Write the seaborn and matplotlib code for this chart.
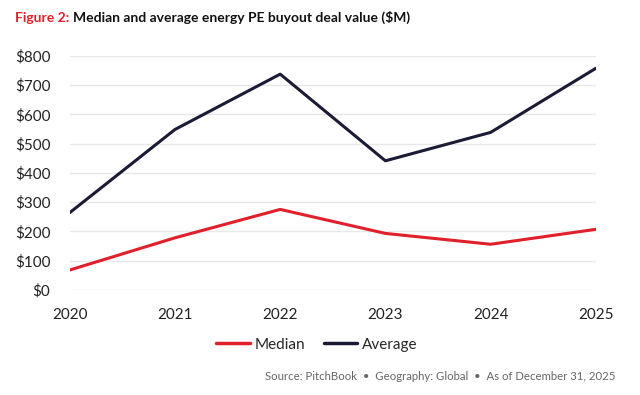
import matplotlib
matplotlib.use("Agg")
import matplotlib.pyplot as plt
import seaborn as sns
import pandas as pd
from matplotlib.lines import Line2D

# data ($M)
years = [2020, 2021, 2022, 2023, 2024, 2025]
median = [68, 178, 275, 193, 156, 207]
average = [264, 548, 737, 441, 538, 757]
y_ticks = [0, 100, 200, 300, 400, 500, 600, 700, 800]

RED = "#E0202B"
NAVY = "#1B1B36"

sns.set_theme(style="white")
plt.rcParams['font.family'] = ['Lato', 'DejaVu Sans']

df = pd.DataFrame({"Year": years * 2,
                   "Value": median + average,
                   "Series": ["Median"] * len(years) + ["Average"] * len(years)})

fig = plt.figure(figsize=(6.4, 3.95), dpi=100)
ax = fig.add_axes([0.109, 0.266, 0.822, 0.593])

sns.lineplot(data=df, x="Year", y="Value", hue="Series",
             palette={"Median": RED, "Average": NAVY},
             linewidth=2.2, ax=ax, legend=False)

ax.set_xlim(years[0], years[-1])
ax.set_ylim(0, 800)
ax.set_xticks(years)
ax.set_yticks(y_ticks)
ax.set_yticklabels([f"${v}" for v in y_ticks])
ax.set_xlabel("")
ax.set_ylabel("")
for s in ax.spines.values():
    s.set_visible(False)
ax.yaxis.grid(True, color="#e8e8e8", linewidth=1)
ax.set_axisbelow(True)
ax.tick_params(axis="both", length=0, labelsize=11, colors="#222222")
ax.tick_params(axis="y", pad=14)
ax.tick_params(axis="x", pad=13)

# legend
handles = [Line2D([], [], color=RED, linewidth=2.5),
           Line2D([], [], color=NAVY, linewidth=2.5)]
fig.legend(handles, ["Median", "Average"], loc="center", bbox_to_anchor=(0.495, 0.127),
           ncol=2, frameon=False, fontsize=11, handlelength=2.2,
           handletextpad=0.3, columnspacing=1.2)

# title
t1 = fig.text(0.023, 0.955, "Figure 2:", color=RED, fontsize=10,
              fontweight="bold", va="center", ha="left")
fig.canvas.draw()
bb = t1.get_window_extent()
x2 = (bb.x1 + 4) / fig.bbox.width
fig.text(x2, 0.955, "Median and average energy PE buyout deal value ($M)",
         color="#111111", fontsize=10, fontweight="bold", va="center", ha="left")

fig.text(0.961, 0.048,
         "Source: PitchBook  \u2022  Geography: Global  \u2022  As of December 31, 2025",
         color="#666666", fontsize=8.2, ha="right", va="center")

fig.savefig("out.png", dpi=100)
